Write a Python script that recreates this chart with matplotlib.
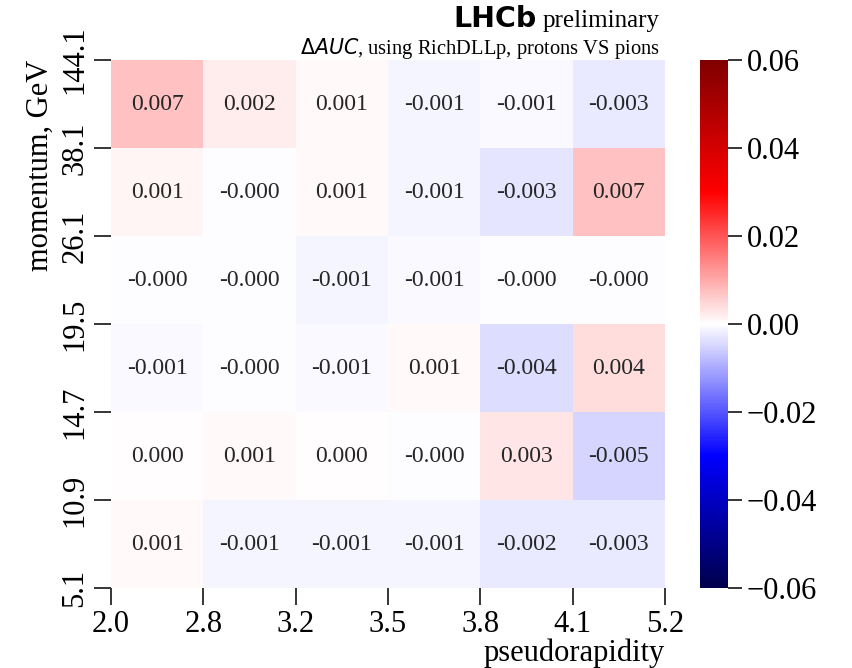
import numpy as np
import matplotlib
matplotlib.use("Agg")
import matplotlib.pyplot as plt

# bin edges
eta_edges = ["2.0", "2.8", "3.2", "3.5", "3.8", "4.1", "5.2"]
p_edges = ["5.1", "10.9", "14.7", "19.5", "26.1", "38.1", "144.1"]  # bottom -> top

# Delta AUC values, rows from top (144.1-38.1) to bottom (10.9-5.1)
row_144_38 = [0.0072, 0.0022, 0.0008, -0.0011, -0.0008, -0.0027]
row_38_26 = [0.0013, -0.0002, 0.0009, -0.0012, -0.0031, 0.0071]
row_26_19 = [-0.0003, -0.0003, -0.0010, -0.0006, -0.0002, -0.0003]
row_19_14 = [-0.0006, -0.0003, -0.0006, 0.0006, -0.0042, 0.0041]
row_14_10 = [0.0002, 0.0009, 0.0002, -0.0002, 0.0032, -0.0047]
row_10_5 = [0.0008, -0.0011, -0.0011, -0.0011, -0.0024, -0.0027]

data_top_down = np.array([row_144_38, row_38_26, row_26_19, row_19_14, row_14_10, row_10_5])
data = data_top_down[::-1]  # bottom -> top

plt.rcParams['font.family'] = ['Liberation Serif', 'DejaVu Sans']
plt.rcParams['mathtext.fontset'] = 'dejavusans'

fig = plt.figure(figsize=(8.53, 6.68), dpi=100)
ax = fig.add_axes([111/853, 1-588/668, (665-111)/853, (588-60)/668])
cax = fig.add_axes([700/853, 1-588/668, 28/853, (588-60)/668])

ny, nx = data.shape
mesh = ax.pcolormesh(np.arange(nx+1), np.arange(ny+1), data, cmap='seismic',
                     vmin=-0.06, vmax=0.06)
for i in range(ny):
    for j in range(nx):
        ax.text(j+0.5, i+0.5, "%.3f" % data[i, j], ha='center', va='center',
                fontsize=17, color='#262626')

ax.set_xlim(0, nx)
ax.set_ylim(0, ny)
ax.set_xticks(np.arange(nx+1))
ax.set_xticklabels(eta_edges)
ax.set_yticks(np.arange(ny+1))
ax.set_yticklabels(p_edges, rotation=90, va='center')
for s in ax.spines.values():
    s.set_visible(False)
ax.tick_params(axis='both', labelsize=22, length=12, width=1.3, color='#262626')
ax.set_xlabel("pseudorapidity", fontsize=22, loc='right', labelpad=0)
ax.set_ylabel("momentum, GeV", fontsize=22, loc='top', labelpad=4)

cb = fig.colorbar(mesh, cax=cax)
cb.outline.set_visible(False)
cb.set_ticks([-0.06, -0.04, -0.02, 0.0, 0.02, 0.04, 0.06])
cb.ax.tick_params(labelsize=22, length=10, width=1.3, color='#262626')

t_pre = ax.text(0.99, 1.0625, "preliminary", transform=ax.transAxes,
                ha='right', va='baseline', fontsize=18)
fig.canvas.draw()
bb = t_pre.get_window_extent()
x_left_axes = ax.transAxes.inverted().transform((bb.x0 - 6, bb.y0))[0]
ax.text(x_left_axes, 1.0625, "LHCb", transform=ax.transAxes, ha='right',
        va='baseline', fontsize=20.5, fontweight='bold', family='DejaVu Sans')
ax.text(0.99, 1.0114, r"$\Delta AUC$, using RichDLLp, protons VS pions",
        transform=ax.transAxes, ha='right', va='baseline', fontsize=14.8)

fig.savefig("out.png", dpi=100)
